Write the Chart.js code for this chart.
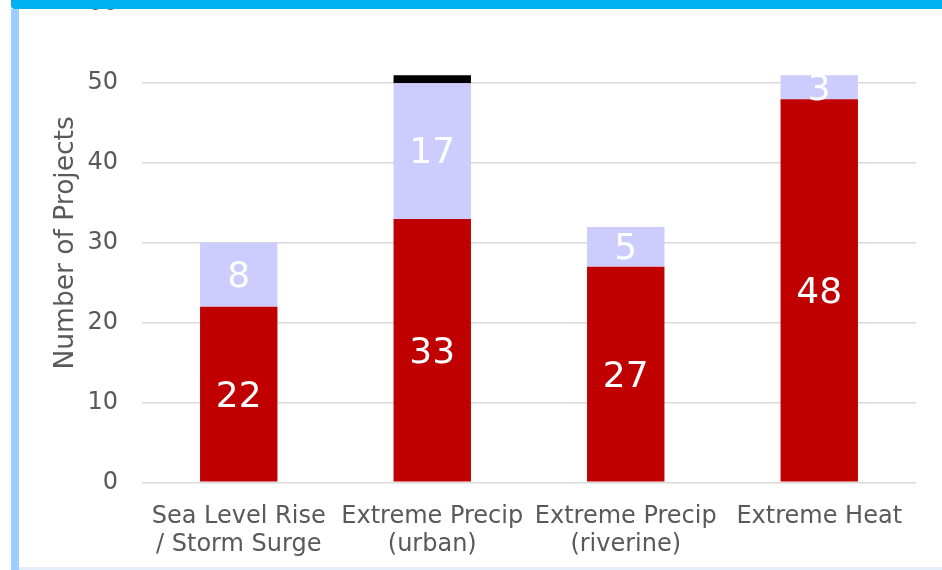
<!DOCTYPE html>
<html>
<head>
<meta charset="utf-8">
<script src="https://cdn.jsdelivr.net/npm/chart.js@4/dist/chart.umd.min.js"></script>
<style>
  html, body { margin: 0; padding: 0; background: #ffffff; overflow: hidden; width: 942px; height: 570px; }
  #wrap { position: absolute; left: 0; top: -35px; width: 942px; height: 620px; }
  .bar { position: absolute; z-index: 5; }
  #topbar { left: 11px; top: 0; width: 931px; height: 9px; background: #00B0F0; border-bottom-left-radius: 4px; }
  #leftbar { left: 11px; top: 9px; width: 8px; height: 561px; background: #9ECEFF; }
  #bottombar { left: 19px; top: 567px; width: 923px; height: 3px; background: #E3EEFA; }
</style>
</head>
<body>
<div id="wrap"><canvas id="c" width="942" height="620"></canvas></div>
<div class="bar" id="topbar"></div>
<div class="bar" id="leftbar"></div>
<div class="bar" id="bottombar"></div>
<script>
const categories = [
  ["Sea Level Rise", "/ Storm Surge"],
  ["Extreme Precip", "(urban)"],
  ["Extreme Precip", "(riverine)"],
  ["Extreme Heat"]
];
const redValues = [22, 33, 27, 48];
const lavenderValues = [8, 17, 5, 3];
const blackValues = [0, 1, 0, 0];
const yTicks = [0, 10, 20, 30, 40, 50, 60];

const FONT = "'DejaVu Sans', Verdana, sans-serif";
const GREY = "#595959";

const labelPlugin = {
  id: 'segLabels',
  afterDatasetsDraw(chart) {
    const ctx = chart.ctx;
    ctx.save();
    ctx.font = "36px " + FONT;
    ctx.fillStyle = "#ffffff";
    ctx.textAlign = "center";
    ctx.textBaseline = "middle";
    [0, 1].forEach(di => {
      const meta = chart.getDatasetMeta(di);
      const data = chart.data.datasets[di].data;
      meta.data.forEach((el, i) => {
        if (!data[i]) return;
        const y = (el.y + el.base) / 2;
        ctx.fillText(String(data[i]), el.x, y + 3);
      });
    });
    ctx.restore();
  }
};

new Chart(document.getElementById('c'), {
  type: 'bar',
  data: {
    labels: categories,
    datasets: [
      { data: redValues, backgroundColor: '#C00000', borderWidth: 0, barPercentage: 0.4, categoryPercentage: 1 },
      { data: lavenderValues, backgroundColor: '#CCCCFF', borderWidth: 0, barPercentage: 0.4, categoryPercentage: 1 },
      { data: blackValues, backgroundColor: '#000000', borderWidth: 0, barPercentage: 0.4, categoryPercentage: 1 }
    ]
  },
  options: {
    responsive: false,
    animation: false,
    devicePixelRatio: 1,
    layout: { padding: { top: 28.5, left: 46, right: 26, bottom: 6.5 } },
    plugins: { legend: { display: false }, tooltip: { enabled: false } },
    scales: {
      x: {
        stacked: true,
        grid: { display: false, drawTicks: false },
        border: { display: false },
        ticks: { color: GREY, font: { family: FONT, size: 24, lineHeight: 1.17 }, padding: 20, maxRotation: 0, autoSkip: false }
      },
      y: {
        stacked: true,
        min: yTicks[0],
        max: yTicks[yTicks.length - 1],
        afterBuildTicks(scale) { scale.ticks = yTicks.map(v => ({ value: v })); },
        afterFit(scale) { scale.width = 96; },
        grid: { color: '#D9D9D9', lineWidth: 1.5, drawTicks: false },
        border: { display: false },
        ticks: { color: GREY, font: { family: FONT, size: 24 }, padding: 24 },
        title: { display: true, text: 'Number of Projects', color: GREY, font: { family: FONT, size: 26.5, lineHeight: 1.2 }, padding: { top: 4, bottom: 4 } }
      }
    }
  },
  plugins: [labelPlugin]
});
</script>
</body>
</html>
